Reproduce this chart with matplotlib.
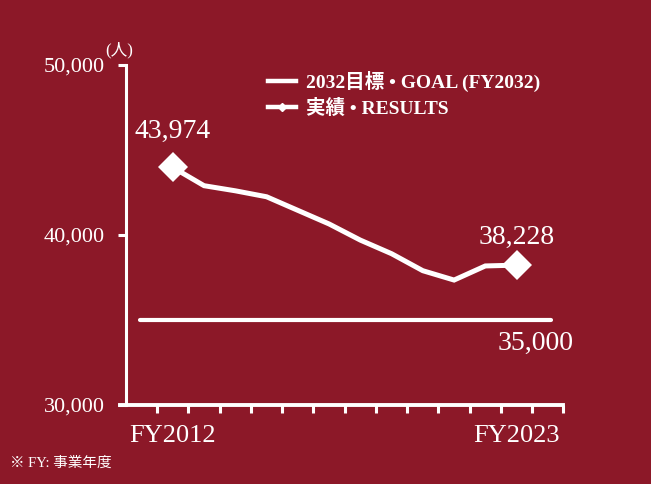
import matplotlib
matplotlib.use('Agg')
import matplotlib.pyplot as plt
from matplotlib.font_manager import FontProperties
from matplotlib.lines import Line2D

# Data
years = ['FY2012', 'FY2013', 'FY2014', 'FY2015', 'FY2016', 'FY2017',
         'FY2018', 'FY2019', 'FY2020', 'FY2021', 'FY2022', 'FY2023']
results = [43974, 42900, 42600, 42250, 41450, 40650,
           39700, 38900, 37900, 37350, 38180, 38228]
goal = 35000
goal_label = '35,000'
yticks = [30000, 40000, 50000]
ytick_labels = ['30,000', '40,000', '50,000']

bg = '#8C1828'
fg = 'white'
serif = ['Liberation Serif', 'Noto Sans CJK JP']

plt.rcParams['font.family'] = serif

fig = plt.figure(figsize=(6.51, 4.84), dpi=100)
fig.patch.set_facecolor(bg)
ax = fig.add_axes([0.1935, 0.1632, 0.672, 0.7025])
ax.set_facecolor(bg)

x = list(range(len(years)))

# goal line
ax.plot([-1.05, 12.1], [goal, goal], color=fg, lw=3.0, solid_capstyle='round')
# results line
ax.plot(x, results, color=fg, lw=3.6, marker='D', markersize=15.5,
        markevery=[0, len(years) - 1], markeredgewidth=0, solid_joinstyle='miter')

ax.set_xlim(-1.5, len(years) + 0.5)
ax.set_ylim(30000, 50000)

for side in ['top', 'right']:
    ax.spines[side].set_visible(False)
ax.spines['left'].set_color(fg)
ax.spines['left'].set_linewidth(2.2)
ax.spines['bottom'].set_color(fg)
ax.spines['bottom'].set_linewidth(2.8)
ax.spines['bottom'].set_bounds(-1.7, len(years) + 0.5)

ax.set_yticks(yticks)
ax.set_yticklabels(ytick_labels)
ax.tick_params(axis='y', colors=fg, length=6, width=2.2, labelsize=16, pad=9)
ax.set_xticks([i - 0.5 for i in range(len(years) + 2)])
ax.set_xticklabels([])
ax.tick_params(axis='x', colors=fg, length=6, width=2.2)

# category labels at the ends
for i in [0, len(years) - 1]:
    ax.text(i, 28850, years[i], ha='center', va='top', color=fg,
            fontsize=19, fontweight='medium', clip_on=False)

# value labels
ax.annotate(f'{results[0]:,}', (0, results[0]), xytext=(0, 17), textcoords='offset points',
            ha='center', va='bottom', color=fg, fontsize=20)
ax.annotate(f'{results[-1]:,}', (len(years) - 1, results[-1]), xytext=(0, 11),
            textcoords='offset points', ha='center', va='bottom', color=fg, fontsize=20)
ax.annotate(goal_label, (len(years) - 0.4, goal), xytext=(0, -7.5),
            textcoords='offset points', ha='center', va='top', color=fg, fontsize=20)

# unit label
ax.annotate('(人)', (0, 1), xycoords='axes fraction', xytext=(-5, 5),
            textcoords='offset points', ha='center', va='bottom', color=fg, fontsize=12)

# legend
handles = [Line2D([], [], color=fg, lw=3.2),
           Line2D([], [], color=fg, lw=3.2, marker='D', markersize=4)]
labels = ['2032目標 • GOAL (FY2032)', '実績 • RESULTS']
leg = ax.legend(handles, labels, loc='upper left', bbox_to_anchor=(0.285, 1.035),
                frameon=False, handlelength=1.45, handletextpad=0.5, labelspacing=0.35,
                prop=FontProperties(family=serif, size=14, weight='bold'))
for t in leg.get_texts():
    t.set_color(fg)

fig.text(0.015, 0.035, '※ FY: 事業年度', color=fg, fontsize=10.5,
         family=['Liberation Serif', 'Noto Sans CJK JP'])

fig.savefig('out.png', dpi=100, facecolor=bg)
